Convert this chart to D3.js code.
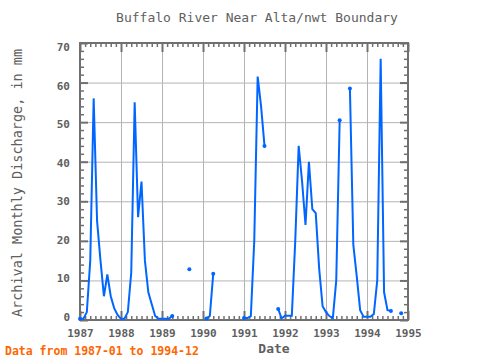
<!DOCTYPE html>
<html><head><meta charset="utf-8">
<script src="https://cdn.jsdelivr.net/npm/d3@7/dist/d3.min.js"></script>
<style>
body{margin:0;background:#fff}
svg{display:block}
text{font-family:"DejaVu Sans Mono",monospace}
</style>
</head><body>
<svg id="chart" width="480" height="360"></svg>
<script>
// ---- data (monthly discharge, mm; null = missing) ----
const years = [1987, 1988, 1989, 1990, 1991, 1992, 1993, 1994];
const v1987 = [0.3, 0.3, 2, 15, 56, 25, 15, 6, 11.5, 6, 3, 1.3];
const v1988 = [0.3, 0.3, 2, 12, 55, 26, 35, 15, 7, 4, 1, 0.3];
const v1989 = [0.3, 0.3, 0.3, 1, null, null, null, null, 12.8, null, null, null];
const v1990 = [null, 0.4, 1, 11.7, null, null, null, null, null, null, null, null];
const v1991 = [0.5, 0.5, 1, 20, 61.5, 54, 44, null, null, null, 2.8, 0.4];
const v1992 = [1.1, 1.1, 1.1, 20, 44, 35, 24, 40, 28, 27, 13, 3.5];
const v1993 = [2, 1, 0.5, 10, 50.5, null, null, 58.5, 19, 11, 2.5, 0.8];
const v1994 = [0.8, 0.8, 1.5, 10, 66, 7, 2.5, 2.3, null, null, 1.7, null];
const yearValues = [v1987, v1988, v1989, v1990, v1991, v1992, v1993, v1994];
const xTickYears = [1987, 1988, 1989, 1990, 1991, 1992, 1993, 1994, 1995];
const yTickValues = [0, 10, 20, 30, 40, 50, 60, 70];
const titleText = "Buffalo River Near Alta/nwt Boundary";
const yTitle = "Archival Monthly Discharge, in mm";
const xTitle = "Date";
const noteText = "Data from 1987-01 to 1994-12";

// ---- build records ----
const records = [];
years.forEach((yr, i) => yearValues[i].forEach((v, m) => records.push({t: yr + m / 12, v: v})));

const svg = d3.select("#chart");
const L = 80, R = 408, T = 43, B = 320;
const x = d3.scaleLinear().domain([1987, 1995]).range([L, R]);
const y = d3.scaleLinear().domain([0, 70]).range([B, T]);
const yLab = d3.scaleLinear().domain([0, 70]).range([B - 3, T + 4]);

const gridColor = "#b4b4b4", axisColor = "#707070", textColor = "#606060";

// grid
svg.append("g").attr("transform", `translate(0,${B})`)
  .call(d3.axisBottom(x).tickValues(xTickYears).tickSize(-(B - T)).tickFormat(""))
  .call(g => g.select(".domain").remove())
  .selectAll("line").attr("stroke", gridColor);
svg.append("g").attr("transform", `translate(${L},0)`)
  .call(d3.axisLeft(y).tickValues(yTickValues).tickSize(-(R - L)).tickFormat(""))
  .call(g => g.select(".domain").remove())
  .selectAll("line").attr("stroke", gridColor);

// minor / major ticks (inward)
const minorX = [];
xTickYears.slice(0, -1).forEach(yr => { for (let k = 1; k < 8; k++) minorX.push(yr + k / 8); });
const minorY = d3.range(0, 70, 2).filter(v => v % 10 !== 0);
function tickGroup(axis, tx, ty, vals, size, w) {
  svg.append("g").attr("transform", `translate(${tx},${ty})`)
    .call(axis.tickValues(vals).tickSize(-size).tickFormat(""))
    .call(g => g.select(".domain").remove())
    .selectAll("line").attr("stroke", axisColor).attr("stroke-width", w);
}
tickGroup(d3.axisBottom(x), 0, B, minorX, 4, 1.5);
tickGroup(d3.axisTop(x), 0, T, minorX, 4, 1.5);
tickGroup(d3.axisBottom(x), 0, B, xTickYears, 9, 2);
tickGroup(d3.axisTop(x), 0, T, xTickYears, 9, 2);
tickGroup(d3.axisLeft(y), L, 0, minorY, 4, 1.5);
tickGroup(d3.axisRight(y), R, 0, minorY, 4, 1.5);
tickGroup(d3.axisLeft(y), L, 0, yTickValues, 8, 2);
tickGroup(d3.axisRight(y), R, 0, yTickValues, 8, 2);

// frame
svg.append("rect").attr("x", L).attr("y", T).attr("width", R - L).attr("height", B - T)
  .attr("fill", "none").attr("stroke", axisColor).attr("stroke-width", 2);

// tick labels
svg.append("g").attr("transform", `translate(0,${B})`)
  .call(d3.axisBottom(x).tickValues(xTickYears).tickSize(0).tickPadding(9).tickFormat(d3.format("d")))
  .call(g => g.select(".domain").remove())
  .selectAll("text").attr("fill", textColor).style("font-size", "11px").style("font-weight", "bold").style("font-family", "DejaVu Sans Mono");
svg.append("g").attr("transform", `translate(${L},0)`)
  .call(d3.axisLeft(yLab).tickValues(yTickValues).tickSize(0).tickPadding(10).tickFormat(d3.format("d")))
  .call(g => g.select(".domain").remove())
  .selectAll("text").attr("fill", textColor).style("font-size", "11px").style("font-weight", "bold").style("font-family", "DejaVu Sans Mono");

// series line
const line = d3.line().defined(d => d.v !== null).x(d => x(d.t)).y(d => y(d.v));
svg.append("path").datum(records).attr("d", line)
  .attr("fill", "none").attr("stroke", "#0066ff").attr("stroke-width", 2).attr("stroke-linejoin", "miter");
const ends = records.filter((d, i) => d.v !== null &&
  (i === 0 || records[i - 1].v === null || i === records.length - 1 || records[i + 1].v === null));
svg.append("g").selectAll("circle").data(ends).join("circle")
  .attr("cx", d => x(d.t)).attr("cy", d => y(d.v)).attr("r", 2).attr("fill", "#0066ff");

// titles
svg.append("text").attr("x", 257).attr("y", 22).attr("text-anchor", "middle")
  .attr("fill", textColor).style("font-size", "13px").text(titleText);
svg.append("text").attr("transform", "translate(22,183) rotate(-90)").attr("text-anchor", "middle")
  .attr("fill", textColor).style("font-size", "13.5px").text(yTitle);
svg.append("text").attr("x", 274).attr("y", 353).attr("text-anchor", "middle")
  .attr("fill", textColor).style("font-size", "13px").style("font-weight", "bold").text(xTitle);
svg.append("text").attr("x", 5).attr("y", 355)
  .attr("fill", "#ff6600").style("font-size", "11.5px").style("font-weight", "bold").text(noteText);
</script>
</body></html>
